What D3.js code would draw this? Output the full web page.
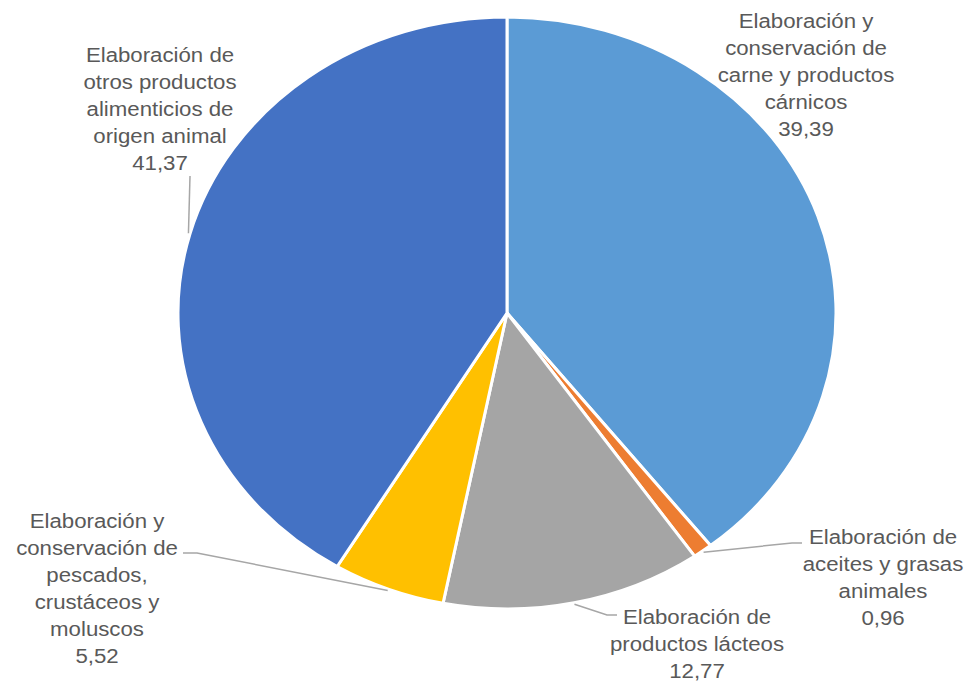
<!DOCTYPE html>
<html>
<head>
<meta charset="utf-8">
<script src="https://cdn.jsdelivr.net/npm/d3@7"></script>
<style>
  body { margin: 0; background: #fff; }
  text { font-family: "Liberation Sans", Arial, sans-serif; fill: #595959; }
</style>
</head>
<body>
<div id="chart"></div>
<script>
// data
var categories = [
    ["Elaboración y", "conservación de", "carne y productos", "cárnicos"],
    ["Elaboración de", "aceites y grasas", "animales"],
    ["Elaboración de", "productos lácteos"],
    ["Elaboración y", "conservación de", "pescados,", "crustáceos y", "moluscos"],
    ["Elaboración de", "otros productos", "alimenticios de", "origen animal"]
];
var values = [39.39, 0.96, 12.77, 5.52, 41.37];
var colors = ["#5B9BD5", "#ED7D31", "#A5A5A5", "#FFC000", "#4472C4"];

// label layout: centre x, first baseline, and where the leader line ends (null = none)
var labelPos = [
    {x: 806, y: 28, end: null},
    {x: 883, y: 544, end: [[802, 543], [792, 543]]},
    {x: 697, y: 624, end: [[617, 615], [607, 615]]},
    {x: 97,  y: 528, end: [[183, 553], [197, 553]]},
    {x: 160, y: 62,  end: [[190, 176]]}
];

var width = 971, height = 686;
var cx = 507, cy = 313, ry = 296, rx = 329;
var sx = rx / ry;
var lineH = 27;

var fmt = d3.formatLocale({decimal: ",", thousands: ".", grouping: [3], currency: ["", ""]}).format(".2f");

var svg = d3.select("#chart").append("svg")
    .attr("width", width)
    .attr("height", height);

var pie = d3.pie().sort(null).value(function(d) { return d; });
var arcs = pie(values);

var arc = d3.arc().innerRadius(0).outerRadius(ry);

var g = svg.append("g")
    .attr("transform", "translate(" + cx + "," + cy + ") scale(" + sx + ",1)");

g.selectAll("path")
    .data(arcs)
    .enter()
    .append("path")
    .attr("d", arc)
    .style("fill", function(d, i) { return colors[i]; })
    .style("stroke", "#fff")
    .style("stroke-width", 3)
    .attr("vector-effect", "non-scaling-stroke");

// leader lines from the pie outline to the labels
function edgePoint(d) {
    var a = (d.startAngle + d.endAngle) / 2;
    return [cx + rx * 1.005 * Math.sin(a), cy - ry * 1.005 * Math.cos(a)];
}

svg.selectAll("polyline")
    .data(arcs.filter(function(d, i) { return labelPos[i].end; }))
    .enter()
    .append("polyline")
    .attr("points", function(d) {
        var pts = [edgePoint(d)].concat(labelPos[d.index].end.slice().reverse());
        return pts.map(function(p) { return p.join(","); }).join(" ");
    })
    .style("fill", "none")
    .style("stroke", "#A6A6A6")
    .style("stroke-width", 1.5);

var labels = svg.selectAll("g.label")
    .data(arcs)
    .enter()
    .append("g")
    .attr("class", "label")
    .attr("transform", function(d, i) {
        return "translate(" + labelPos[i].x + "," + labelPos[i].y + ") scale(" + sx + ",1)";
    });

labels.append("text")
    .attr("text-anchor", "middle")
    .attr("font-size", "20px")
    .each(function(d, i) {
        var t = d3.select(this);
        var lines = categories[i].concat([fmt(values[i])]);
        lines.forEach(function(l, k) {
            t.append("tspan")
                .attr("x", 0)
                .attr("y", k * lineH)
                .text(l);
        });
    });
</script>
</body>
</html>
